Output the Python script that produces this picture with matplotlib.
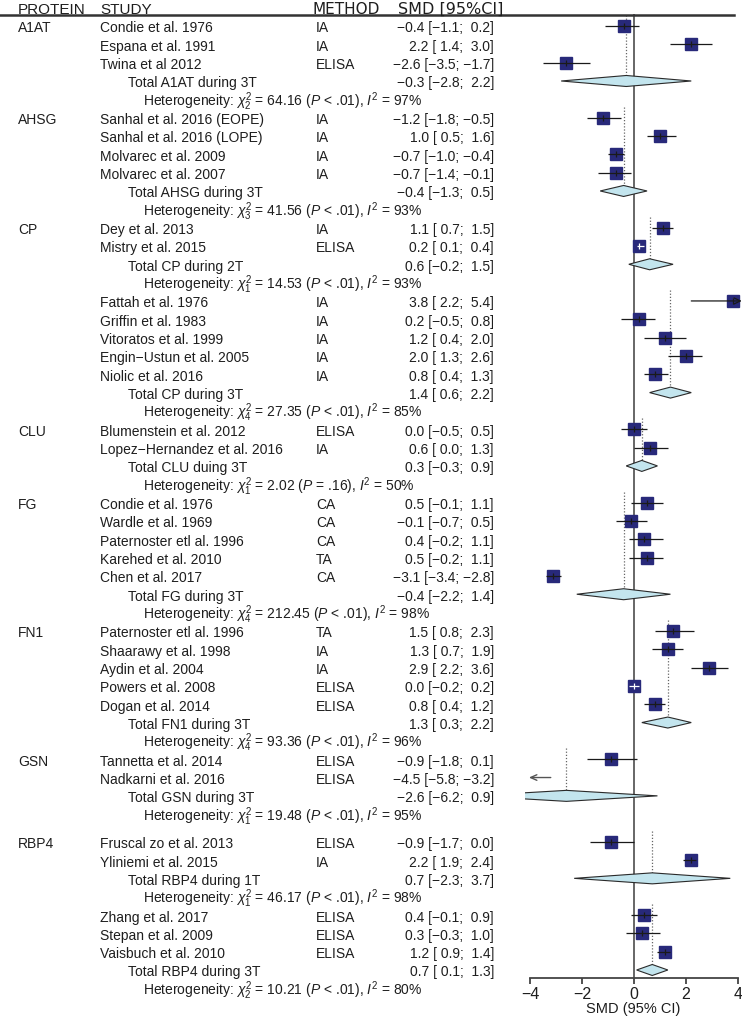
import matplotlib
matplotlib.use("Agg")
import matplotlib.pyplot as plt
from matplotlib import transforms
from matplotlib.patches import Polygon
from matplotlib.lines import Line2D

plt.rcParams['font.family'] = ['Liberation Sans', 'DejaVu Sans']
plt.rcParams['mathtext.fontset'] = 'custom'
plt.rcParams['mathtext.rm'] = 'Liberation Sans'
plt.rcParams['mathtext.it'] = 'Liberation Sans:italic'
plt.rcParams['mathtext.bf'] = 'Liberation Sans:bold'

# ---------------- data ----------------
study = ["Condie et al. 1976", "Espana et al. 1991", "Twina et al 2012",
         "Sanhal et al. 2016 (EOPE)", "Sanhal et al. 2016 (LOPE)", "Molvarec et al. 2009", "Molvarec et al. 2007",
         "Dey et al. 2013", "Mistry et al. 2015",
         "Fattah et al. 1976", "Griffin et al. 1983", "Vitoratos et al. 1999", "Engin\u2212Ustun et al. 2005", "Niolic et al. 2016",
         "Blumenstein et al. 2012", "Lopez\u2212Hernandez et al. 2016",
         "Condie et al. 1976", "Wardle et al. 1969", "Paternoster etl al. 1996", "Karehed et al. 2010", "Chen et al. 2017",
         "Paternoster etl al. 1996", "Shaarawy et al. 1998", "Aydin et al. 2004", "Powers et al. 2008", "Dogan et al. 2014",
         "Tannetta et al. 2014", "Nadkarni et al. 2016",
         "Fruscal zo et al. 2013", "Yliniemi et al. 2015",
         "Zhang et al. 2017", "Stepan et al. 2009", "Vaisbuch et al. 2010"]
method = ["IA", "IA", "ELISA", "IA", "IA", "IA", "IA", "IA", "ELISA", "IA", "IA", "IA", "IA", "IA",
          "ELISA", "IA", "CA", "CA", "CA", "TA", "CA", "TA", "IA", "IA", "ELISA", "ELISA",
          "ELISA", "ELISA", "ELISA", "IA", "ELISA", "ELISA", "ELISA"]
smd = [-0.4, 2.2, -2.6, -1.2, 1.0, -0.7, -0.7, 1.1, 0.2, 3.8, 0.2, 1.2, 2.0, 0.8, 0.0, 0.6,
       0.5, -0.1, 0.4, 0.5, -3.1, 1.5, 1.3, 2.9, 0.0, 0.8, -0.9, -4.5, -0.9, 2.2, 0.4, 0.3, 1.2]
ci_lo = [-1.1, 1.4, -3.5, -1.8, 0.5, -1.0, -1.4, 0.7, 0.1, 2.2, -0.5, 0.4, 1.3, 0.4, -0.5, 0.0,
         -0.1, -0.7, -0.2, -0.2, -3.4, 0.8, 0.7, 2.2, -0.2, 0.4, -1.8, -5.8, -1.7, 1.9, -0.1, -0.3, 0.9]
ci_hi = [0.2, 3.0, -1.7, -0.5, 1.6, -0.4, -0.1, 1.5, 0.4, 5.4, 0.8, 2.0, 2.6, 1.3, 0.5, 1.3,
         1.1, 0.5, 1.1, 1.1, -2.8, 2.3, 1.9, 3.6, 0.2, 1.2, 0.1, -3.2, 0.0, 2.4, 0.9, 1.0, 1.4]
group = [0, 0, 0, 1, 1, 1, 1, 2, 2, 3, 3, 3, 3, 3, 4, 4, 5, 5, 5, 5, 5, 6, 6, 6, 6, 6, 7, 7, 8, 8, 9, 9, 9]

group_protein = ["A1AT", "AHSG", "CP", "", "CLU", "FG", "FN1", "GSN", "RBP4", ""]
total_label = ["Total A1AT during 3T", "Total AHSG during 3T", "Total CP during 2T", "Total CP during 3T",
               "Total CLU duing 3T", "Total FG during 3T", "Total FN1 during 3T", "Total GSN during 3T",
               "Total RBP4 during 1T", "Total RBP4 during 3T"]
total_smd = [-0.3, -0.4, 0.6, 1.4, 0.3, -0.4, 1.3, -2.6, 0.7, 0.7]
total_lo = [-2.8, -1.3, -0.2, 0.6, -0.3, -2.2, 0.3, -6.2, -2.3, 0.1]
total_hi = [2.2, 0.5, 1.5, 2.2, 0.9, 1.4, 2.2, 0.9, 3.7, 1.3]
het_df = [2, 3, 1, 4, 1, 4, 4, 1, 1, 2]
het_chi2 = ["64.16", "41.56", "14.53", "27.35", "2.02", "212.45", "93.36", "19.48", "46.17", "10.21"]
het_p = ["< .01", "< .01", "< .01", "< .01", "= .16", "< .01", "< .01", "< .01", "< .01", "< .01"]
het_i2 = [97, 93, 93, 85, 50, 98, 96, 95, 98, 80]

xticks = [-4, -2, 0, 2, 4]

# ---------------- layout / style ----------------
W, H = 742, 1020
NAVY = "#28297A"
DIAMOND = "#C3E5EE"
TXT = "#1e1e1e"
ROW_PX = 18.33
ROW0_PX = 27.0
TOP_PX, BOT_PX = 15.0, 979.0
AX_L_PX = 525.0
XMIN, XMAX = -4.19, 4.15
CLIP_LO, CLIP_HI = -4.04, 4.14


def fx(px):
    return px / W


def fmt(v):
    return f"{v:.1f}".replace("-", "\u2212")


def ci_text(e, l, h):
    return f"{fmt(e)} [{fmt(l):>4}; {fmt(h):>4}]"


fig = plt.figure(figsize=(W / 100, H / 100), dpi=100)
ax = fig.add_axes([fx(AX_L_PX), 1 - BOT_PX / H, (W - AX_L_PX) / W, (BOT_PX - TOP_PX) / H])
ax.set_xlim(XMIN, XMAX)
ax.set_ylim((BOT_PX - ROW0_PX) / ROW_PX, (TOP_PX - ROW0_PX) / ROW_PX)
ax.patch.set_visible(False)
trans = transforms.blended_transform_factory(fig.transFigure, ax.transData)

# row positions
rows = []
y = 0.0
ngroups = len(group_protein)
for g in range(ngroups):
    if g == 8:
        y += 0.5
    first = y
    for i in range(len(study)):
        if group[i] == g:
            rows.append(("study", i, y))
            y += 1
    rows.append(("total", g, y, first))
    y += 1
    rows.append(("het", g, y))
    y += 1

BASE = 0.3  # baseline offset of text in row units
SQ = 12.0   # square size in px
SQ_PT = SQ * 72 / 100
PX_PER_UNIT = (W - AX_L_PX) / (XMAX - XMIN)

group_first_y = {}
for r in rows:
    kind = r[0]
    if kind == "study":
        i, yy = r[1], r[2]
        g = group[i]
        if g not in group_first_y:
            group_first_y[g] = yy
            if group_protein[g]:
                ax.text(fx(18), yy + BASE, group_protein[g], transform=trans, fontsize=10,
                        va="baseline", ha="left", color=TXT)
        ax.text(fx(100), yy + BASE, study[i], transform=trans, fontsize=10, va="baseline", ha="left", color=TXT)
        ax.text(fx(316), yy + BASE, method[i], transform=trans, fontsize=10, va="baseline", ha="left", color=TXT)
        ax.text(fx(494), yy + BASE, ci_text(smd[i], ci_lo[i], ci_hi[i]), transform=trans, fontsize=10,
                va="baseline", ha="right", color=TXT)
        lo, hi, e = ci_lo[i], ci_hi[i], smd[i]
        lo_c, hi_c = max(lo, CLIP_LO), min(hi, CLIP_HI)
        inside = XMIN < e < XMAX
        if inside:
            ax.plot([e], [yy], marker="s", ms=SQ_PT, color=NAVY, mec=NAVY, zorder=3, ls="none")
        narrow = (hi - lo) * PX_PER_UNIT < SQ
        lc = "white" if narrow else "#1a1a1a"
        if lo < CLIP_LO or hi > CLIP_HI:
            if hi > CLIP_HI:
                ax.annotate("", xy=(hi_c, yy), xytext=(lo_c, yy),
                            arrowprops=dict(arrowstyle="->,head_length=0.45,head_width=0.22",
                                            color="#1a1a1a", lw=0.9, shrinkA=0, shrinkB=0), zorder=4)
            else:
                ax.annotate("", xy=(lo_c, yy), xytext=(hi_c, yy),
                            arrowprops=dict(arrowstyle="->,head_length=0.45,head_width=0.2",
                                            color="#555555", lw=1.0, shrinkA=0, shrinkB=0), zorder=4)
        else:
            ax.plot([lo, hi], [yy, yy], color=lc, lw=0.9, zorder=4, solid_capstyle="butt")
        if inside:
            ax.plot([e], [yy], marker="|", ms=4, mew=0.9, color=lc, zorder=5, ls="none")
    elif kind == "total":
        g, yy, first = r[1], r[2], r[3]
        ax.text(fx(128), yy + BASE, total_label[g], transform=trans, fontsize=10, va="baseline", ha="left", color=TXT)
        ax.text(fx(494), yy + BASE, ci_text(total_smd[g], total_lo[g], total_hi[g]), transform=trans,
                fontsize=10, va="baseline", ha="right", color=TXT)
        e, lo, hi = total_smd[g], total_lo[g], total_hi[g]
        h = 0.3
        poly = Polygon([(lo, yy), (e, yy - h), (hi, yy), (e, yy + h)], closed=True,
                       facecolor=DIAMOND, edgecolor="#2a2a2a", lw=0.8, zorder=3)
        ax.add_patch(poly)
        ax.plot([e, e], [first - 0.6, yy], ls=(0, (1, 1.5)), color="#666666", lw=0.9, zorder=1)
    else:
        g, yy = r[1], r[2]
        txt = (r"Heterogeneity: $\chi^2_{%d}$ = %s ($P$ %s), $I^2$ = %d%%"
               % (het_df[g], het_chi2[g], het_p[g], het_i2[g]))
        ax.text(fx(143), yy + BASE, txt, transform=trans, fontsize=10, va="baseline", ha="left", color=TXT)

# zero line
ax.axvline(0, color="#666666", lw=1.4, zorder=2)

# axis
for s in ["top", "right", "left"]:
    ax.spines[s].set_visible(False)
ax.spines["bottom"].set_bounds(xticks[0], xticks[-1])
ax.spines["bottom"].set_color("#444444")
ax.spines["bottom"].set_linewidth(1.3)
ax.set_yticks([])
ax.set_xticks(xticks)
ax.set_xticklabels([str(t).replace("-", "\u2212") for t in xticks], fontsize=11.5, color=TXT)
ax.tick_params(axis="x", length=4.5, width=1.3, color="#444444", pad=1.5)
ax.set_xlabel("SMD (95% CI)", fontsize=10.5, labelpad=0, color=TXT)

# header
hy = 1 - 14 / H
fig.text(fx(18), hy, "PROTEIN", fontsize=11, va="baseline", ha="left", color=TXT)
fig.text(fx(100), hy, "STUDY", fontsize=11, va="baseline", ha="left", color=TXT)
fig.text(fx(313), hy, "METHOD", fontsize=11, family=["DejaVu Sans"], va="baseline", ha="left", color=TXT)
fig.text(fx(398), hy, "SMD [95%CI]", fontsize=11.5, family=["DejaVu Sans"], va="baseline", ha="left", color=TXT)
fig.add_artist(Line2D([0, fx(734)], [1 - 15.5 / H, 1 - 15.5 / H], transform=fig.transFigure,
                      color="#333333", lw=1.8))

fig.savefig("out.png", dpi=100)
